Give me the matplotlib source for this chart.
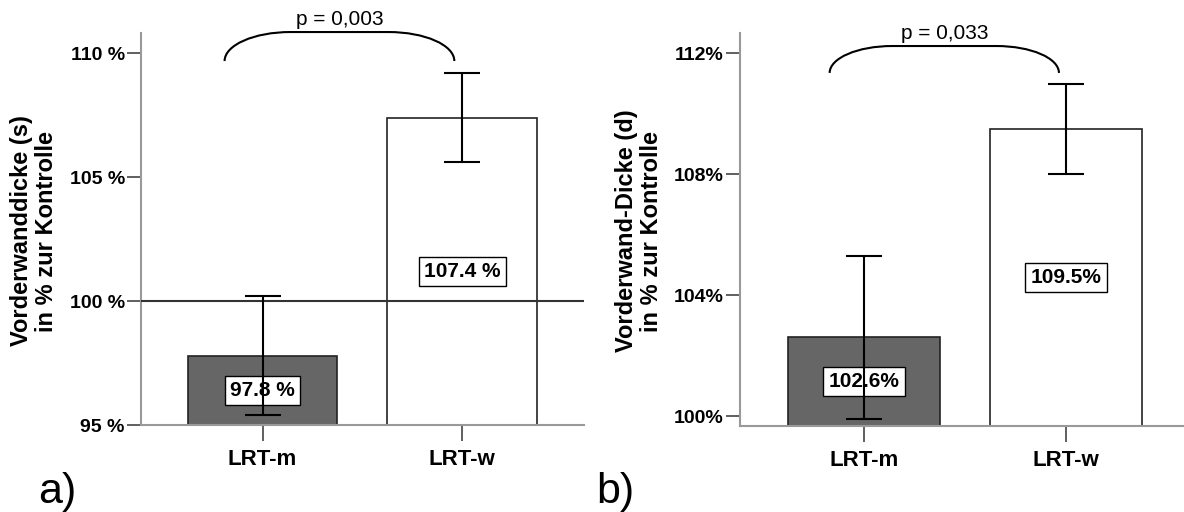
import matplotlib
matplotlib.use('Agg')
import matplotlib.pyplot as plt
from matplotlib.path import Path
from matplotlib.patches import PathPatch

plt.rcParams['font.family'] = ['Liberation Sans', 'DejaVu Sans']

# Daten
categories = ['LRT-m', 'LRT-w']

a_values = [97.8, 107.4]
a_errors = [2.4, 1.8]
a_labels = ['97.8 %', '107.4 %']
a_ticks = [95, 100, 105, 110]
a_ticklabels = ['95 %', '100 %', '105 %', '110 %']
a_ylabel = 'Vorderwanddicke (s)\nin % zur Kontrolle'
a_p = 'p = 0,003'

b_values = [102.6, 109.5]
b_errors = [2.7, 1.5]
b_labels = ['102.6%', '109.5%']
b_ticks = [100, 104, 108, 112]
b_ticklabels = ['100%', '104%', '108%', '112%']
b_ylabel = 'Vorderwand-Dicke (d)\nin % zur Kontrolle'
b_p = 'p = 0,033'

bar_colors = ['#666666', 'white']


def draw_bracket(ax, x0, x1, yb, yt, rx, text):
    # Klammer mit abgerundeten Enden (Viertelellipsen)
    k = 0.5523
    h = yt - yb
    verts = [(x0, yb),
             (x0, yb + k * h), (x0 + rx - k * rx, yt), (x0 + rx, yt),
             (x1 - rx, yt),
             (x1 - rx + k * rx, yt), (x1, yb + k * h), (x1, yb)]
    codes = [Path.MOVETO,
             Path.CURVE4, Path.CURVE4, Path.CURVE4,
             Path.LINETO,
             Path.CURVE4, Path.CURVE4, Path.CURVE4]
    patch = PathPatch(Path(verts, codes), facecolor='none', edgecolor='black',
                      lw=1.5, clip_on=False, zorder=5)
    ax.add_patch(patch)
    ax.annotate(text, xy=((x0 + x1) / 2, yt), xytext=(0, 5),
                textcoords='offset points', ha='center', va='baseline',
                fontsize=15, annotation_clip=False)


def draw_panel(ax, values, errors, labels, ticks, ticklabels, ylim, xlim):
    x = list(range(len(categories)))
    base = ylim[0]
    ax.bar(x, [v - base for v in values], bottom=base, width=0.75,
           color=bar_colors, edgecolor='#222222', linewidth=1.2, zorder=2)
    for xi, v, lab in zip(x, values, labels):
        ax.text(xi, (base + v) / 2, lab, ha='center', va='center',
                fontsize=15, fontweight='bold', zorder=3,
                bbox=dict(boxstyle='square,pad=0.25', fc='white', ec='black', lw=1))
    ax.errorbar(x, values, yerr=errors, fmt='none', ecolor='black',
                elinewidth=1.5, capsize=13, capthick=1.5, zorder=4)

    ax.set_xlim(*xlim)
    ax.set_ylim(*ylim)
    ax.set_xticks(x)
    ax.set_xticklabels(categories, fontsize=16, fontweight='bold')
    ax.set_yticks(ticks)
    ax.set_yticklabels(ticklabels, fontsize=14, fontweight='bold')
    ax.tick_params(axis='y', direction='out', length=10, width=1.2,
                   color='#444444', pad=2)
    ax.tick_params(axis='x', direction='out', length=11.5, width=1.2,
                   color='#444444', pad=6)
    for s in ['top', 'right']:
        ax.spines[s].set_visible(False)
    for s in ['left', 'bottom']:
        ax.spines[s].set_color('#999999')
        ax.spines[s].set_linewidth(1.5)


fig = plt.figure(figsize=(11.84, 5.12), dpi=100)

ax_a = fig.add_axes([0.1195, 0.1699, 0.3734, 0.7656])
draw_panel(ax_a, a_values, a_errors, a_labels, a_ticks, a_ticklabels,
           (95, 110.81), (-0.606, 1.607))
ax_a.axhline(100, color='#333333', lw=1.5, zorder=3)
draw_bracket(ax_a, -0.19, 0.96, 109.68, 110.85, 0.33, a_p)

ax_b = fig.add_axes([0.6253, 0.1686, 0.3747, 0.7669])
draw_panel(ax_b, b_values, b_errors, b_labels, b_ticks, b_ticklabels,
           (99.68, 112.67), (-0.612, 1.584))
draw_bracket(ax_b, -0.17, 0.965, 111.35, 112.24, 0.31, b_p)

# Achsenbeschriftungen
fig.text(34 / 1184, 1 - 231 / 512, a_ylabel, rotation=90, ha='center',
         va='center', multialignment='center', fontsize=17, fontweight='bold',
         linespacing=1.1)
fig.text(639 / 1184, 1 - 231 / 512, b_ylabel, rotation=90, ha='center',
         va='center', multialignment='center', fontsize=17, fontweight='bold',
         linespacing=1.1)

fig.text(38 / 1184, 1 - 492 / 512, 'a)', fontsize=31, ha='left', va='center')
fig.text(596 / 1184, 1 - 492 / 512, 'b)', fontsize=31, ha='left', va='center')

fig.savefig('out.png', dpi=100)
